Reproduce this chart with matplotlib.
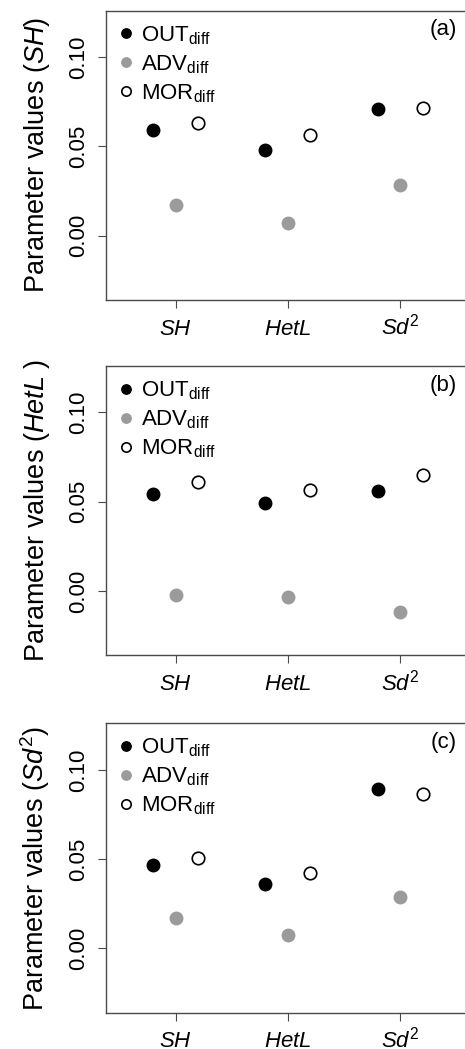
#!/usr/bin/env python3
# -*- coding: utf-8 -*-
"""
plot.py

Parameter values of OUT/ADV/MOR differences for three sensitivity targets
"""

import numpy as np
import matplotlib

matplotlib.use("Agg")
import matplotlib.pyplot as plt

plt.rcParams["font.family"] = ["Liberation Sans", "DejaVu Sans"]
plt.rcParams["mathtext.fontset"] = "custom"
plt.rcParams["mathtext.rm"] = "Liberation Sans"
plt.rcParams["mathtext.it"] = "Liberation Sans:italic"

# Categories on the x axis
CATEGORIES = [r"$\mathit{SH}$", r"$\mathit{HetL}$", r"$\mathit{Sd}^{\mathrm{2}}$"]

# Panel (a): parameter SH
out_sh = [0.059, 0.048, 0.071]
adv_sh = [0.017, 0.007, 0.0285]
mor_sh = [0.063, 0.0565, 0.0713]

# Panel (b): parameter HetL
out_hetl = [0.0545, 0.0493, 0.056]
adv_hetl = [-0.0022, -0.0032, -0.0116]
mor_hetl = [0.061, 0.0568, 0.065]

# Panel (c): parameter Sd^2
out_sd2 = [0.0467, 0.0361, 0.089]
adv_sd2 = [0.0171, 0.0073, 0.0287]
mor_sd2 = [0.0506, 0.0421, 0.0866]

PANELS = [
    ("(a)", r"Parameter values ($\mathit{SH}$)", out_sh, adv_sh, mor_sh),
    ("(b)", r"Parameter values ($\mathit{HetL}$ )", out_hetl, adv_hetl, mor_hetl),
    ("(c)", r"Parameter values ($\mathit{Sd}^{\mathrm{2}}$)", out_sd2, adv_sd2, mor_sd2),
]

GREY = "#9b9b9b"
SPINE = "#4a4a4a"

fig = plt.figure(figsize=(4.65, 10.49), dpi=100)

# Axes boxes in figure fractions (left, bottom, width, height)
boxes = [
    (0.2277, 0.714, 0.783, 0.2758),
    (0.2277, 0.3753, 0.783, 0.2758),
    (0.2277, 0.0346, 0.783, 0.2758),
]

x = np.arange(1, len(CATEGORIES) + 1)

for box, (tag, ylabel, out, adv, mor) in zip(boxes, PANELS):
    ax = fig.add_axes(box)

    ax.plot(x - 0.2, out, "o", color="black", markersize=9, label=r"OUT$_{\mathrm{diff}}$")
    ax.plot(x, adv, "o", color=GREY, markersize=9, label=r"ADV$_{\mathrm{diff}}$")
    ax.plot(
        x + 0.2,
        mor,
        "o",
        markerfacecolor="white",
        markeredgecolor="black",
        markeredgewidth=1.2,
        markersize=9,
        label=r"MOR$_{\mathrm{diff}}$",
    )

    ax.set_xlim(0.38, 3.62)
    ax.set_ylim(-0.036, 0.126)

    ax.set_xticks(x)
    ax.set_xticklabels(CATEGORIES)
    ax.set_yticks([0.0, 0.05, 0.10])
    ax.set_yticklabels(["0.00", "0.05", "0.10"], rotation=90, va="center")

    ax.tick_params(
        direction="out",
        length=6,
        width=0.8,
        color=SPINE,
        labelsize=16,
    )
    ax.tick_params(axis="y", pad=6)
    ax.tick_params(axis="x", pad=19)

    # Align x labels on their baseline so the superscript does not push Sd down
    for lab in ax.get_xticklabels():
        lab.set_va("baseline")

    for spine in ax.spines.values():
        spine.set_color(SPINE)
        spine.set_linewidth(1.0)

    ax.set_ylabel(ylabel, fontsize=19.5, labelpad=12)

    ax.text(
        0.964,
        0.934,
        tag,
        transform=ax.transAxes,
        ha="right",
        va="center",
        fontsize=16,
    )

    ax.legend(
        loc="upper left",
        frameon=False,
        fontsize=16,
        markerscale=0.75,
        handlelength=0.6,
        handletextpad=0.4,
        labelspacing=0.29,
        borderaxespad=0.3,
        borderpad=0.3,
    )

fig.savefig("out.png", dpi=100)
